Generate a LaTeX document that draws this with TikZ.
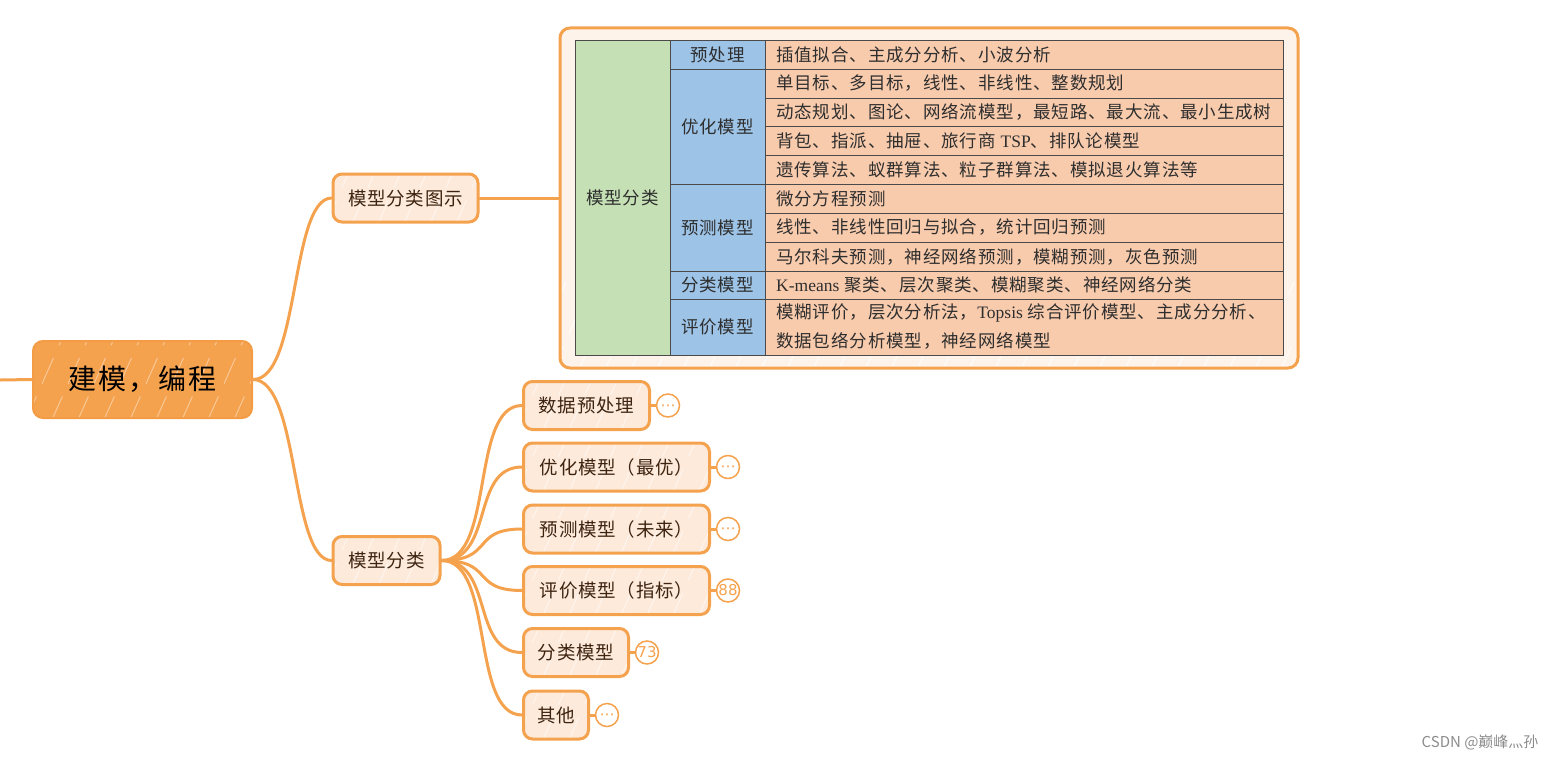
\documentclass[tikz,border=0pt]{standalone}
\usepackage{fontspec}
\setmainfont{Liberation Serif}
\newfontfamily\cjk{Noto Sans CJK SC}
\newfontfamily\cjkt[LetterSpace=5]{Noto Sans CJK SC}
\newfontfamily\cjkn[LetterSpace=4]{Noto Sans CJK SC}
\newfontfamily\cjkr[LetterSpace=7]{Noto Sans CJK SC}
\newfontfamily\symf{DejaVu Sans}
\newcommand{\dotsbadge}{\raisebox{-4.5pt}[0pt][0pt]{⋯}}
\definecolor{org}{HTML}{F5A24E}
\definecolor{orgd}{HTML}{F39B45}
\definecolor{nfill}{HTML}{FDEADB}
\definecolor{ffill}{HTML}{FEF3EA}
\definecolor{ntext}{HTML}{3E2410}
\definecolor{cgreen}{HTML}{C5E0B4}
\definecolor{cblue}{HTML}{9DC3E6}
\definecolor{cpeach}{HTML}{F8CBAD}
\definecolor{tline}{HTML}{4A4A4A}
\definecolor{ttext}{HTML}{2E2E2E}
\begin{document}
\begin{tikzpicture}[x=1pt,y=-1pt,
  hatch/.style={path picture={\foreach \i in {-60,-34,...,760}{
      \draw[white, opacity=#1, line width=1pt, dash pattern=on 28pt off 14pt]
        ([xshift=\i pt, yshift=-4pt]path picture bounding box.south west) -- ++(40pt,90pt);}}},
  mapnode/.style={draw=org, line width=3pt, fill=nfill, rounded corners=9pt, hatch=0.55,
    minimum height=48pt, inner sep=0pt, text=ntext, font=\cjkn\fontsize{18.5}{20}\selectfont},
  rootnode/.style={draw=orgd, line width=2pt, fill=org, rounded corners=10pt, hatch=0.4,
    minimum width=219pt, minimum height=77pt, inner sep=0pt, text=black,
    font=\cjkr\fontsize{28}{32}\selectfont},
  link/.style={draw=org, line width=3pt, line cap=round},
  badge/.style={circle, draw=org, line width=1.5pt, fill=white, minimum size=23pt,
    inner sep=0pt, text=org, font=\symf\fontsize{15}{17}\selectfont},
  celltext/.style={text=ttext, font=\cjkt\fontsize{17.5}{19}\selectfont, inner sep=0pt},
  tgrid/.style={draw=tline, line width=0.8pt}
]
\useasboundingbox (0,0) rectangle (1557,760);

% root
\node[rootnode] (root) at (142.5,379.5) {建模，编程};
\coordinate (rootin) at (0,380);
\draw[link] (rootin) -- (root.west);

% first level
\node[mapnode, minimum width=145pt] (fig) at (405.5,198) {模型分类图示};
\node[mapnode, minimum width=107pt] (cls) at (386.5,560.5) {模型分类};

\draw[link] (root.east) .. controls (300,380) and (290,199) .. (fig.west);
\draw[link] (root.east) .. controls (300,380) and (290,560) .. (cls.west);

% table frame
\node[draw=org, line width=3pt, fill=ffill, rounded corners=10pt, hatch=0.8,
  minimum width=738pt, minimum height=340pt, inner sep=0pt] (frame) at (929,198) {};
\draw[link] (fig.east) -- (frame.west);

% table fills
\fill[cgreen] (575,40) rectangle (670,355);
\fill[cblue] (670,40) rectangle (765,355);
\fill[cpeach] (765,40) rectangle (1283,355);
% grid
\draw[tgrid] (575,40) rectangle (1283,355);
\draw[tgrid] (670,40) -- (670,355);
\draw[tgrid] (765,40) -- (765,355);
\foreach \y in {69,184,271,299} \draw[tgrid] (670,\y) -- (1283,\y);
\foreach \y in {98,126,155,213,242} \draw[tgrid] (765,\y) -- (1283,\y);

% column 1 and 2 labels
\node[celltext] (c1) at (622.5,197.5) {模型分类};
\node[celltext] (g1) at (717.5,54.5) {预处理};
\node[celltext] (g2) at (717.5,126.5) {优化模型};
\node[celltext] (g3) at (717.5,227.5) {预测模型};
\node[celltext] (g4) at (717.5,285) {分类模型};
\node[celltext] (g5) at (717.5,327) {评价模型};

% column 3 texts
\node[celltext, anchor=west] (r1) at (776,54.5) {插值拟合、主成分分析、小波分析};
\node[celltext, anchor=west] (r2) at (776,83.5) {单目标、多目标，线性、非线性、整数规划};
\node[celltext, anchor=west] (r3) at (776,112) {动态规划、图论、网络流模型，最短路、最大流、最小生成树};
\node[celltext, anchor=west] (r4) at (776,140.5) {背包、指派、抽屉、旅行商 {\rmfamily TSP}、排队论模型};
\node[celltext, anchor=west] (r5) at (776,169.5) {遗传算法、蚁群算法、粒子群算法、模拟退火算法等};
\node[celltext, anchor=west] (r6) at (776,198.5) {微分方程预测};
\node[celltext, anchor=west] (r7) at (776,227.5) {线性、非线性回归与拟合，统计回归预测};
\node[celltext, anchor=west] (r8) at (776,256.5) {马尔科夫预测，神经网络预测，模糊预测，灰色预测};
\node[celltext, anchor=west] (r9) at (776,285) {{\rmfamily K-means} 聚类、层次聚类、模糊聚类、神经网络分类};
\node[celltext, anchor=west] (r10) at (776,312.5) {模糊评价，层次分析法，{\rmfamily Topsis} 综合评价模型、主成分分析、};
\node[celltext, anchor=west] (r11) at (776,340.5) {数据包络分析模型，神经网络模型};

% second level under 模型分类
\node[mapnode, anchor=west, minimum width=126pt] (n1) at (522,405.5) {数据预处理};
\node[mapnode, anchor=west, minimum width=186pt] (n2) at (522,467) {优化模型（最优）};
\node[mapnode, anchor=west, minimum width=186pt] (n3) at (522,529) {预测模型（未来）};
\node[mapnode, anchor=west, minimum width=186pt] (n4) at (522,590.5) {评价模型（指标）};
\node[mapnode, anchor=west, minimum width=105pt] (n5) at (522,652.5) {分类模型};
\node[mapnode, anchor=west, minimum width=65pt] (n6) at (522,715) {其他};

\foreach \n in {n1,n2,n3,n4,n5,n6}
  \draw[link] (cls.east) .. controls (495,560.5) and (470,0|-\n.west) .. (\n.west);

% badges
\node[badge] (b1) at (668,405.5) {\dotsbadge};
\node[badge] (b2) at (728,467) {\dotsbadge};
\node[badge] (b3) at (728,529) {\dotsbadge};
\node[badge] (b4) at (728,590.5) {88};
\node[badge] (b5) at (647,652.5) {73};
\node[badge] (b6) at (607,715) {\dotsbadge};
\draw[link] (n1.east) -- (b1.west);
\draw[link] (n2.east) -- (b2.west);
\draw[link] (n3.east) -- (b3.west);
\draw[link] (n4.east) -- (b4.west);
\draw[link] (n5.east) -- (b5.west);
\draw[link] (n6.east) -- (b6.west);

% watermark
\node[text=black!45, font=\cjk\fontsize{15}{17}\selectfont, anchor=east] (wm) at (1542,742) {CSDN @巅峰灬孙};
\end{tikzpicture}
\end{document}
